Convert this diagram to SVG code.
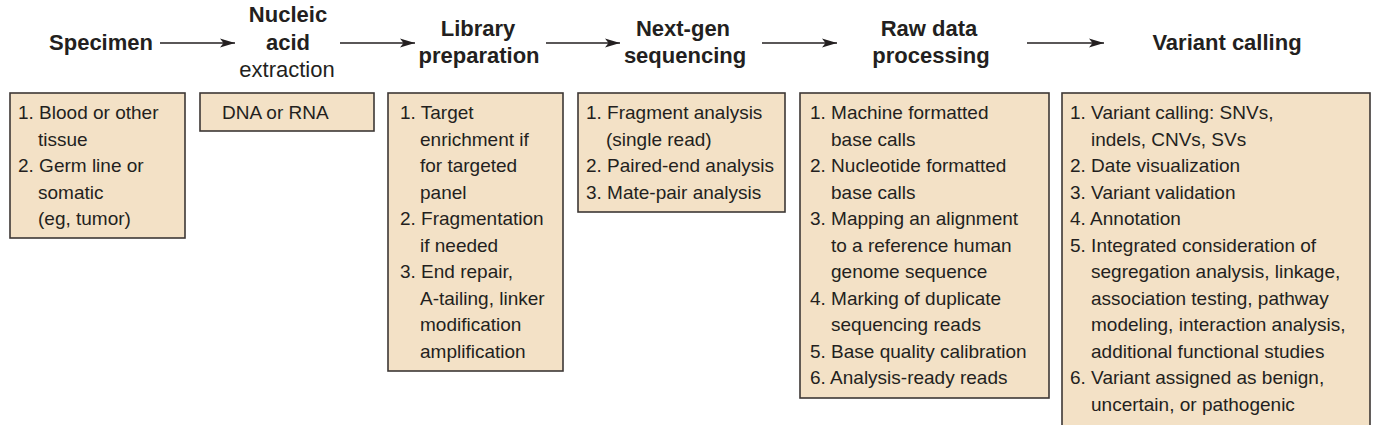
<svg xmlns="http://www.w3.org/2000/svg" width="1375" height="425" viewBox="0 0 1375 425">
<style>
.bg{fill:#ffffff}
.box{fill:#f3e1c6;stroke:#3d3735;stroke-width:1.6}
.h{font-family:"Liberation Sans",Arial,sans-serif;font-size:22px;font-weight:bold;fill:#231f20;text-anchor:middle}
.hr{font-family:"Liberation Sans",Arial,sans-serif;font-size:22px;fill:#231f20;text-anchor:middle}
.t{font-family:"Liberation Sans",Arial,sans-serif;font-size:19px;fill:#231f20}
.c{stroke:#231f20;stroke-width:1.6;fill:none}
</style>
<defs>
<marker id="ah" markerUnits="userSpaceOnUse" markerWidth="16" markerHeight="10" refX="15" refY="5" orient="auto">
<path d="M0,0.5 L15,5 L0,9.5 L3.5,5 Z" fill="#231f20"/>
</marker>
</defs>
<rect class="bg" x="0" y="0" width="1375" height="425"/>
<g id="connectors">
<line class="c" x1="160" y1="43" x2="235" y2="43" marker-end="url(#ah)"/>
<line class="c" x1="340" y1="43" x2="415" y2="43" marker-end="url(#ah)"/>
<line class="c" x1="546" y1="43" x2="620" y2="43" marker-end="url(#ah)"/>
<line class="c" x1="762" y1="43" x2="837" y2="43" marker-end="url(#ah)"/>
<line class="c" x1="1027" y1="43" x2="1104" y2="43" marker-end="url(#ah)"/>
</g>
<g id="specimen">
<text class="h" x="101" y="50">Specimen</text>
<rect class="box" x="10" y="93" width="175" height="145"/>
<text class="t" x="18" y="119">1. Blood or other</text>
<text class="t" x="38" y="145.5">tissue</text>
<text class="t" x="18" y="172">2. Germ line or</text>
<text class="t" x="38" y="198.5">somatic</text>
<text class="t" x="38" y="225">(eg, tumor)</text>
</g>
<g id="extraction">
<text class="h" x="288" y="22">Nucleic</text>
<text class="h" x="288" y="50">acid</text>
<text class="hr" x="287" y="77">extraction</text>
<rect class="box" x="200" y="93" width="174" height="38"/>
<text class="t" x="222" y="119">DNA or RNA</text>
</g>
<g id="library">
<text class="h" x="478" y="36">Library</text>
<text class="h" x="479" y="63">preparation</text>
<rect class="box" x="388" y="93" width="175" height="278"/>
<text class="t" x="400" y="119">1. Target</text>
<text class="t" x="420" y="145.5">enrichment if</text>
<text class="t" x="420" y="172">for targeted</text>
<text class="t" x="420" y="198.5">panel</text>
<text class="t" x="400" y="225">2. Fragmentation</text>
<text class="t" x="420" y="251.5">if needed</text>
<text class="t" x="400" y="278">3. End repair,</text>
<text class="t" x="420" y="304.5">A-tailing, linker</text>
<text class="t" x="420" y="331">modification</text>
<text class="t" x="420" y="357.5">amplification</text>
</g>
<g id="sequencing">
<text class="h" x="683" y="36">Next-gen</text>
<text class="h" x="685" y="63">sequencing</text>
<rect class="box" x="578" y="93" width="207" height="119"/>
<text class="t" x="586" y="119">1. Fragment analysis</text>
<text class="t" x="606" y="145.5">(single read)</text>
<text class="t" x="586" y="172">2. Paired-end analysis</text>
<text class="t" x="586" y="198.5">3. Mate-pair analysis</text>
</g>
<g id="processing">
<text class="h" x="929" y="36">Raw data</text>
<text class="h" x="931" y="63">processing</text>
<rect class="box" x="800" y="93" width="249" height="305"/>
<text class="t" x="810" y="119">1. Machine formatted</text>
<text class="t" x="831" y="145.5">base calls</text>
<text class="t" x="810" y="172">2. Nucleotide formatted</text>
<text class="t" x="831" y="198.5">base calls</text>
<text class="t" x="810" y="225">3. Mapping an alignment</text>
<text class="t" x="831" y="251.5">to a reference human</text>
<text class="t" x="831" y="278">genome sequence</text>
<text class="t" x="810" y="304.5">4. Marking of duplicate</text>
<text class="t" x="831" y="331">sequencing reads</text>
<text class="t" x="810" y="357.5">5. Base quality calibration</text>
<text class="t" x="810" y="384">6. Analysis-ready reads</text>
</g>
<g id="variant">
<text class="h" x="1227" y="50">Variant calling</text>
<rect class="box" x="1062" y="93" width="308" height="350"/>
<text class="t" x="1070" y="119">1. Variant calling: SNVs,</text>
<text class="t" x="1091" y="145.5">indels, CNVs, SVs</text>
<text class="t" x="1070" y="172">2. Date visualization</text>
<text class="t" x="1070" y="198.5">3. Variant validation</text>
<text class="t" x="1070" y="225">4. Annotation</text>
<text class="t" x="1070" y="251.5">5. Integrated consideration of</text>
<text class="t" x="1091" y="278">segregation analysis, linkage,</text>
<text class="t" x="1091" y="304.5">association testing, pathway</text>
<text class="t" x="1091" y="331">modeling, interaction analysis,</text>
<text class="t" x="1091" y="357.5">additional functional studies</text>
<text class="t" x="1070" y="384">6. Variant assigned as benign,</text>
<text class="t" x="1091" y="410.5">uncertain, or pathogenic</text>
</g>
</svg>
